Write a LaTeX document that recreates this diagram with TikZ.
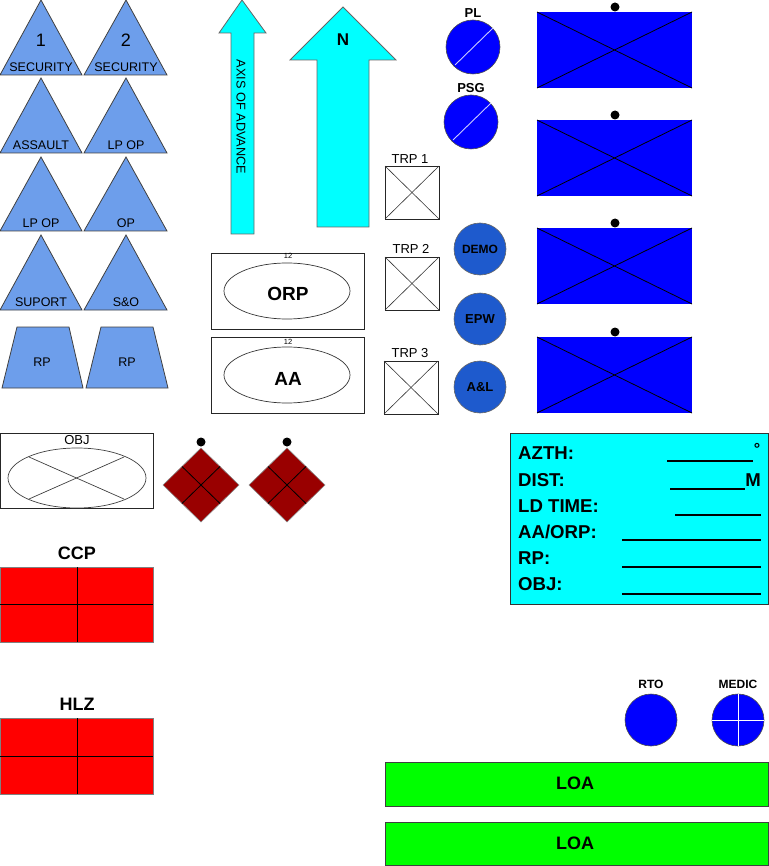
\documentclass[tikz,border=0pt]{standalone}
\usepackage{fontspec}
\setmainfont{Liberation Sans}
\definecolor{triblue}{RGB}{109,158,235}
\definecolor{pureblue}{RGB}{0,0,255}
\definecolor{midblue}{RGB}{30,90,205}
\definecolor{aqua}{RGB}{0,255,255}
\definecolor{maroon}{RGB}{153,0,0}
\definecolor{brightred}{RGB}{255,0,0}
\definecolor{lime}{RGB}{0,255,0}
\begin{document}
\begin{tikzpicture}[x=1pt,y=-1pt,
  tri/.style={fill=triblue,draw=black!75,line width=0.8pt},
  arr/.style={fill=aqua,draw=black!60,line width=0.8pt},
  box/.style={draw=black!85,line width=0.9pt},
  lab/.style={inner sep=0pt,font=\fontsize{12.5}{14}\selectfont},
  num/.style={inner sep=0pt,font=\fontsize{18}{20}\selectfont},
  big/.style={inner sep=0pt,font=\bfseries\fontsize{19}{21}\selectfont},
  small/.style={inner sep=0pt,font=\bfseries\fontsize{12}{14}\selectfont},
  info/.style={inner sep=0pt,anchor=west,font=\bfseries\fontsize{18.6}{20}\selectfont},
  uline/.style={line width=1.4pt},
  wline/.style={white,line width=0.9pt},
  dotmark/.style={fill=black}]
\useasboundingbox (0,0) rectangle (768,866);
% ---------------- triangles
\foreach \yt/\yb in {0/75,78/153,157/231,235/310}{
  \draw[tri] (0,\yb) -- (41,\yt) -- (82,\yb) -- cycle;
  \draw[tri] (84,\yb) -- (126,\yt) -- (167,\yb) -- cycle;
}
\node[num] (n1) at (41,40) {1};
\node[num] (n2) at (126,40) {2};
\node[lab] (t1) at (41,67) {SECURITY};
\node[lab] (t2) at (126,67) {SECURITY};
\node[lab] (t3) at (41,145) {ASSAULT};
\node[lab] (t4) at (126,145) {LP OP};
\node[lab] (t5) at (41,223) {LP OP};
\node[lab] (t6) at (126,223) {OP};
\node[lab] (t7) at (41,302) {SUPORT};
\node[lab] (t8) at (126,302) {S\&O};
% trapezoids
\draw[tri] (2,388) -- (17,327) -- (69,327) -- (83,388) -- cycle;
\draw[tri] (86,388) -- (101,327) -- (153,327) -- (168,388) -- cycle;
\node[lab] (rp1) at (42,362) {RP};
\node[lab] (rp2) at (127,362) {RP};
% ---------------- arrows
\draw[arr] (242,0) -- (266,33) -- (254,33) -- (254,234) -- (231,234) -- (231,33) -- (219,33) -- cycle;
\node[lab,rotate=-90,font=\fontsize{12.7}{14}\selectfont] (axis) at (241,117) {AXIS OF ADVANCE};
\draw[arr] (343,7) -- (396,60) -- (369,60) -- (369,227) -- (317,227) -- (317,60) -- (290,60) -- cycle;
\node[inner sep=0pt,font=\bfseries\fontsize{17}{19}\selectfont] (north) at (343,40) {N};
% ---------------- PL / PSG
\draw[fill=pureblue,draw=black!70,line width=0.6pt] (473,47) circle (27);
\draw[white!80!blue,line width=0.9pt] (455,65) -- (493,28);
\node[small,font=\bfseries\fontsize{13}{15}\selectfont] (pl) at (473,13) {PL};
\draw[fill=pureblue,draw=black!70,line width=0.6pt] (471,122) circle (27);
\draw[white!80!blue,line width=0.9pt] (453,140) -- (491,103);
\node[small,font=\bfseries\fontsize{13}{15}\selectfont] (psg) at (471,88) {PSG};
% ---------------- TRP boxes
\foreach \x/\y in {385/166,385/257,384/361}{
  \draw[box] (\x,\y) rectangle ++(54,53);
  \draw[black!80,line width=0.6pt] (\x,\y) -- ++(54,53);
  \draw[black!80,line width=0.6pt] (\x,\y+53) -- ++(54,-53);
}
\node[lab,font=\fontsize{13}{15}\selectfont] (trp1) at (410,159) {TRP 1};
\node[lab,font=\fontsize{13}{15}\selectfont] (trp2) at (411,249) {TRP 2};
\node[lab,font=\fontsize{13}{15}\selectfont] (trp3) at (410,353) {TRP 3};
% ---------------- DEMO / EPW / A&L
\foreach \y in {249,319,387}{
  \draw[fill=midblue,draw=black!60,line width=0.6pt] (480,\y) circle (26);
}
\node[small] (demo) at (480,249) {DEMO};
\node[small,font=\bfseries\fontsize{13}{15}\selectfont] (epw) at (480,319) {EPW};
\node[small,font=\bfseries\fontsize{13}{15}\selectfont] (al) at (480,387) {A\&L};
% ---------------- ORP / AA
\draw[box] (211,253) rectangle (364,329);
\draw[black!80,line width=0.7pt] (287,291) ellipse (63 and 28);
\node[inner sep=0pt,font=\fontsize{7.5}{8}\selectfont] (orp12) at (288,256) {12};
\node[big] (orp) at (288,294) {ORP};
\draw[box] (211,337) rectangle (364,413);
\draw[black!80,line width=0.7pt] (287,375) ellipse (63 and 28);
\node[inner sep=0pt,font=\fontsize{7.5}{8}\selectfont] (aa12) at (288,342) {12};
\node[big] (aa) at (288,379) {AA};
% ---------------- blue rectangles
\foreach \y in {12,120,228,337}{
  \fill[pureblue] (537,\y) rectangle (692,\y+76);
  \draw[black,line width=0.8pt] (537,\y) -- (692,\y+76);
  \draw[black,line width=0.8pt] (537,\y+76) -- (692,\y);
  \fill[dotmark] (615,\y-5) circle (4.5);
}
% ---------------- OBJ
\draw[box] (0,433) rectangle (153,508);
\draw[black!75,line width=0.7pt] (77,478) ellipse (69 and 30);
\draw[black!75,line width=0.7pt] (29,457) -- (124,499);
\draw[black!75,line width=0.7pt] (29,499) -- (124,457);
\node[lab,font=\fontsize{13}{15}\selectfont] (obj) at (77,440) {OBJ};
% ---------------- diamonds
\foreach \cx in {201,287}{
  \draw[fill=maroon,draw=black!45,line width=0.6pt] (\cx,448) -- (\cx+38,485) -- (\cx,522) -- (\cx-38,485) -- cycle;
  \draw[black,line width=0.8pt] (\cx+19,466.5) -- (\cx-19,503.5);
  \draw[black,line width=0.8pt] (\cx-19,466.5) -- (\cx+19,503.5);
  \fill[dotmark] (\cx,442) circle (4.5);
}
% ---------------- CCP / HLZ
\node[big,font=\bfseries\fontsize{18}{20}\selectfont] (ccp) at (77,553) {CCP};
\draw[fill=brightred,draw=black!50,line width=0.8pt] (0,567) rectangle (153,642);
\draw[black,line width=0.8pt] (77,567) -- (77,642);
\draw[black,line width=0.8pt] (0,604) -- (153,604);
\node[big,font=\bfseries\fontsize{18}{20}\selectfont] (hlz) at (77,704) {HLZ};
\draw[fill=brightred,draw=black!50,line width=0.8pt] (0,718) rectangle (153,794);
\draw[black,line width=0.8pt] (77,718) -- (77,794);
\draw[black,line width=0.8pt] (0,756) -- (153,756);
% ---------------- info box
\draw[fill=aqua,draw=black!80,line width=0.9pt] (510,433) rectangle (768,604);
\node[info] (azth) at (518,453) {AZTH:};
\node[info] (dist) at (518,480) {DIST:};
\node[info] (ld) at (518,506) {LD TIME:};
\node[info] (aaorp) at (518,532) {AA/ORP:};
\node[info] (rp) at (518,558) {RP:};
\node[info] (objl) at (518,584) {OBJ:};
\draw[uline] (667,461) -- (753,461);
\node[inner sep=0pt,font=\bfseries\fontsize{16}{17}\selectfont] (deg) at (757,449) {°};
\draw[uline] (670,489) -- (745,489);
\node[info,anchor=center] (m) at (753,480) {M};
\draw[uline] (675,515) -- (761,515);
\draw[uline] (622,540) -- (761,540);
\draw[uline] (622,567) -- (761,567);
\draw[uline] (622,594) -- (761,594);
% ---------------- RTO / MEDIC
\draw[fill=pureblue,draw=black!70,line width=0.6pt] (651,720) circle (26);
\node[small] (rto) at (651,684) {RTO};
\draw[fill=pureblue,draw=black!70,line width=0.6pt] (738,720) circle (26);
\draw[wline] (712,720) -- (764,720);
\draw[wline] (738,694) -- (738,746);
\node[small] (medic) at (738,684) {MEDIC};
% ---------------- LOA
\draw[fill=lime,draw=black!75,line width=0.9pt] (385,762) rectangle (768,806);
\node[big,font=\bfseries\fontsize{18}{20}\selectfont] (loa1) at (575,783) {LOA};
\draw[fill=lime,draw=black!75,line width=0.9pt] (385,822) rectangle (768,865);
\node[big,font=\bfseries\fontsize{18}{20}\selectfont] (loa2) at (575,843) {LOA};
\end{tikzpicture}
\end{document}
